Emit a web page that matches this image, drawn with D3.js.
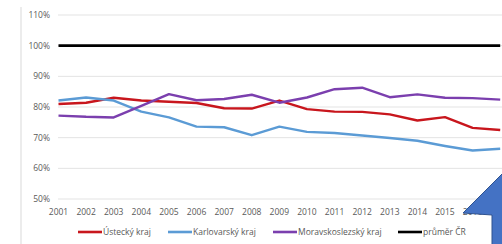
<!DOCTYPE html>
<html>
<head>
<meta charset="utf-8">
<script src="https://cdn.jsdelivr.net/npm/d3@7"></script>
<style>
  body { margin: 0; background: #fff; }
  svg { display: block; }
  text { font-family: "Open Sans", "Liberation Sans", sans-serif; fill: #595959; }
</style>
</head>
<body>
<svg id="chart"></svg>
<script>
// data (share of the Czech average, %)
const years = [2001, 2002, 2003, 2004, 2005, 2006, 2007, 2008, 2009, 2010, 2011, 2012, 2013, 2014, 2015, 2016, 2017];
const ustecky = [81.0, 81.4, 83.0, 82.1, 81.7, 81.3, 79.6, 79.5, 82.1, 79.3, 78.5, 78.4, 77.6, 75.6, 76.7, 73.2, 72.5];
const karlovarsky = [82.1, 83.1, 82.1, 78.5, 76.6, 73.6, 73.4, 70.8, 73.6, 71.9, 71.5, 70.7, 69.9, 69.0, 67.3, 65.8, 66.4];
const moravskoslezsky = [77.2, 76.8, 76.6, 80.4, 84.2, 82.2, 82.6, 84.0, 81.4, 83.1, 85.8, 86.3, 83.2, 84.1, 83.0, 82.9, 82.4];
const prumer = years.map(() => 100);
const yTicks = [50, 60, 70, 80, 90, 100, 110];
// the 2017 label sits under the arrow / off the edge in the picture
const xLabels = years.filter(d => d <= 2016);

const seriesNames = ["Ústecký kraj", "Karlovarský kraj", "Moravskoslezský kraj", "průměr ČR"];
const seriesValues = [ustecky, karlovarsky, moravskoslezsky, prumer];
const colors = ["#c8161d", "#5b9bd5", "#7b3fae", "#000000"];

const width = 502, height = 244;
const svg = d3.select("#chart").attr("width", width).attr("height", height);

const x = d3.scalePoint().domain(years).range([58.5, 500.2]);
const y = d3.scaleLinear().domain([50, 110]).range([199, 15]);

// chart area border on the left
svg.append("line")
  .attr("x1", 21).attr("x2", 21)
  .attr("y1", 7).attr("y2", height)
  .attr("stroke", "#d9d9d9").attr("stroke-width", 1);

// gridlines
svg.append("g")
  .selectAll("line")
  .data(yTicks)
  .join("line")
  .attr("x1", 58).attr("x2", width)
  .attr("y1", d => y(d)).attr("y2", d => y(d))
  .attr("stroke", "#e3e3e3").attr("stroke-width", 1);

// y axis labels
svg.append("g")
  .selectAll("text")
  .data(yTicks)
  .join("text")
  .attr("x", 50)
  .attr("y", d => y(d))
  .attr("dy", "0.35em")
  .attr("text-anchor", "end")
  .style("font-size", "8.5px")
  .text(d => d + "%");

// x axis labels
svg.append("g")
  .selectAll("text")
  .data(xLabels)
  .join("text")
  .attr("x", d => x(d))
  .attr("y", 215)
  .attr("text-anchor", "middle")
  .style("font-size", "8.5px")
  .text(d => d);

// lines
const line = d3.line()
  .x((d, i) => x(years[i]))
  .y(d => y(d));

svg.append("g")
  .selectAll("path")
  .data(seriesValues)
  .join("path")
  .attr("d", d => line(d))
  .attr("fill", "none")
  .attr("stroke", (d, i) => colors[i])
  .attr("stroke-width", (d, i) => i == 3 ? 2.8 : 2.4)
  .attr("stroke-linejoin", "round");

// legend
const legendX = [78, 168, 273, 398];
const legend = svg.append("g")
  .selectAll("g")
  .data(seriesNames)
  .join("g")
  .attr("transform", (d, i) => `translate(${legendX[i]}, 232)`);

legend.append("line")
  .attr("x1", 0).attr("x2", 24)
  .attr("stroke", (d, i) => colors[i])
  .attr("stroke-width", 2.6);

legend.append("text")
  .attr("x", 25)
  .attr("dy", "0.35em")
  .style("font-size", "8.5px")
  .text(d => d);

// blue arrow drawn on top of the chart
svg.append("path")
  .attr("d", "M463,213 L492,215 L492,250 L520,250 L520,215 L548,213 L506,170 Z")
  .attr("fill", "#4472c4")
  .attr("stroke", "#2f528f")
  .attr("stroke-width", 1);
</script>
</body>
</html>
